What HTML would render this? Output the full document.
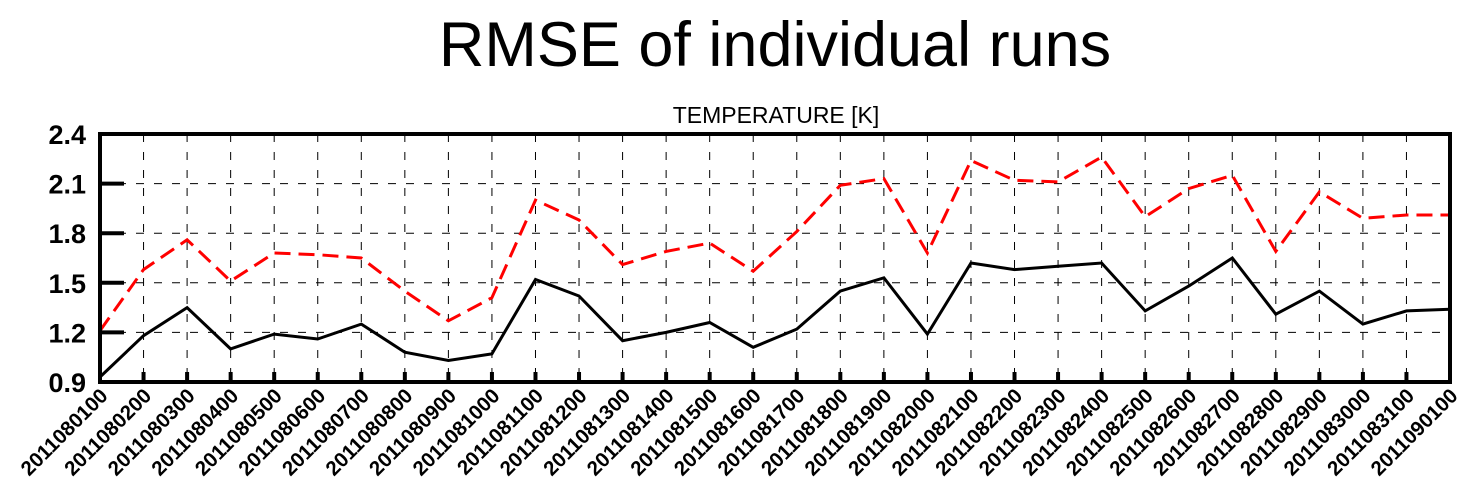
<!DOCTYPE html>
<html><head><meta charset="utf-8"><style>
html,body{margin:0;padding:0;background:#fff;}
svg{display:block;font-family:"Liberation Sans",sans-serif;}
</style></head><body>
<svg id="s" width="1458" height="483" xmlns="http://www.w3.org/2000/svg">
<text x="775" y="66" font-size="63" text-anchor="middle">RMSE of individual runs</text>
<text x="776" y="123" font-size="23" text-anchor="middle">TEMPERATURE [K]</text>
<g id="g"></g>
</svg>
<script>
var g=document.getElementById('g'),h='';
var L=100,R=1450,T=134,B=382;
function X(i){return L+i*(R-L)/31;}
function Y(v){return B-(v-0.9)*(B-T)/1.5;}
for(var i=1;i<31;i++){h+='<line x1="'+X(i)+'" y1="'+T+'" x2="'+X(i)+'" y2="'+B+'" stroke="#000" stroke-width="1" stroke-dasharray="8,10"/>';}
var yl=['0.9','1.2','1.5','1.8','2.1','2.4'];
for(var j=0;j<6;j++){var y=Y(0.9+0.3*j);
 if(j>0&&j<5)h+='<line x1="'+L+'" y1="'+y+'" x2="'+R+'" y2="'+y+'" stroke="#000" stroke-width="1" stroke-dasharray="8,10"/>';
 h+='<line x1="'+L+'" y1="'+y+'" x2="'+(L+24)+'" y2="'+y+'" stroke="#000" stroke-width="4"/>';
 h+='<text x="86" y="'+(y+10)+'" font-size="27" font-weight="bold" text-anchor="end">'+yl[j]+'</text>';}
var lab=[];for(var d=1;d<=31;d++)lab.push('201108'+(d<10?'0':'')+d+'00');lab.push('2011090100');
for(var i=0;i<32;i++){var x=X(i);
 h+='<line x1="'+x+'" y1="'+B+'" x2="'+x+'" y2="'+(B-10)+'" stroke="#000" stroke-width="4"/>';
 h+='<text transform="translate('+(x+9)+','+(B+15)+') rotate(-45)" font-size="20.5" font-weight="bold" text-anchor="end">'+lab[i]+'</text>';}
var k=[0.93,1.18,1.35,1.10,1.19,1.16,1.25,1.08,1.03,1.07,1.52,1.42,1.15,1.20,1.26,1.11,1.22,1.45,1.53,1.19,1.62,1.58,1.60,1.62,1.33,1.48,1.65,1.31,1.45,1.25,1.33,1.34];
var r=[1.21,1.58,1.76,1.51,1.68,1.67,1.65,1.45,1.27,1.41,2.00,1.88,1.61,1.69,1.74,1.57,1.81,2.09,2.13,1.68,2.24,2.12,2.11,2.26,1.90,2.07,2.15,1.69,2.05,1.89,1.91,1.91];
function P(a){return a.map(function(v,i){return X(i).toFixed(1)+','+Y(v).toFixed(1)}).join(' ');}
h+='<polyline points="'+P(r)+'" fill="none" stroke="#f00" stroke-width="3" stroke-dasharray="16,8"/>';
h+='<polyline points="'+P(k)+'" fill="none" stroke="#000" stroke-width="3"/>';
h+='<rect x="'+L+'" y="'+T+'" width="'+(R-L)+'" height="'+(B-T)+'" fill="none" stroke="#000" stroke-width="4"/>';
g.innerHTML=h;
</script>
</body></html>
